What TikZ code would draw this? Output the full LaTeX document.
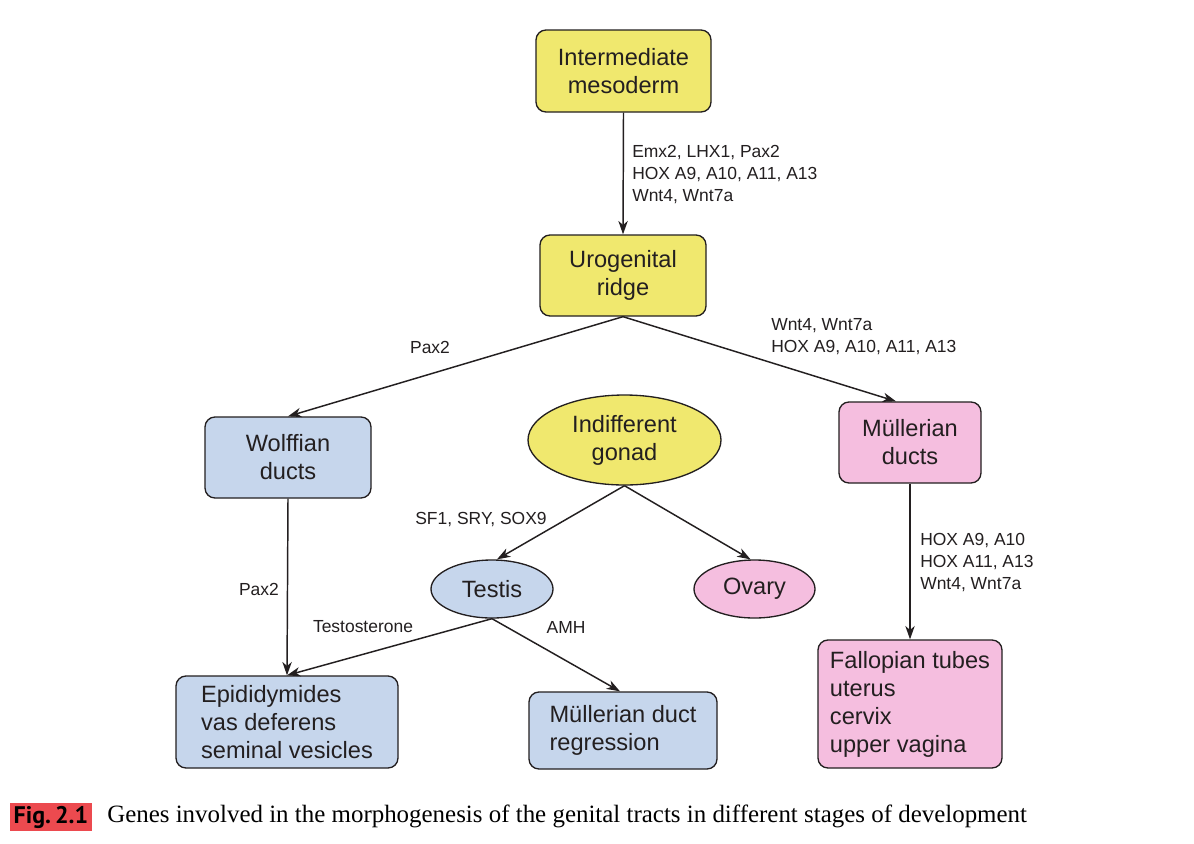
\documentclass[tikz,border=0pt]{standalone}
\usepackage{fontspec}
\setmainfont{Liberation Sans}
\newfontfamily\capserif{Liberation Serif}
\newfontfamily\capsans{PT Sans}
\usetikzlibrary{arrows.meta,shapes.geometric,calc}
\definecolor{ink}{HTML}{231F20}
\definecolor{yel}{HTML}{F0E86E}
\definecolor{blu}{HTML}{C6D6EC}
\definecolor{pnk}{HTML}{F5BEDF}
\definecolor{capred}{HTML}{EC4A4F}
\begin{document}
\begin{tikzpicture}[x=0.75pt,y=-0.75pt,
  nodefont/.style={font=\fontsize{17.7}{21}\selectfont},
  lblfont/.style={font=\fontsize{13.1}{16.5}\selectfont},
  sz/.style 2 args={minimum width=#1*0.75pt, minimum height=#2*0.75pt},
  box/.style={draw=ink, line width=1pt, rounded corners=7.5pt, inner sep=0pt, nodefont, align=center, text=ink},
  oval/.style={draw=ink, line width=1pt, ellipse, inner sep=0pt, nodefont, align=center, text=ink},
  lbl/.style={lblfont, inner sep=0pt, align=left, text=ink},
  arr/.style={draw=ink, line width=1.1pt, -{Stealth[length=10pt,width=7pt,inset=3pt]}}]
\useasboundingbox (0,0) rectangle (1194,843);
\fill[white] (0,0) rectangle (1194,843);

% nodes
\node[box, fill=yel, sz={175}{82}] (im) at (623.5,71) {Intermediate\\mesoderm};
\node[box, fill=yel, sz={166}{81}] (ur) at (623,275.5) {Urogenital\\ridge};
\node[box, fill=blu, sz={166}{81}] (wd) at (288,457.5) {Wolffian\\ducts};
\node[oval, fill=yel, sz={193}{90}] (ig) at (624.5,440) {Indifferent\\gonad};
\node[box, fill=pnk, sz={142}{81}] (md) at (910,442.5) {Müllerian\\ducts};
\node[oval, fill=blu, sz={122}{58}] (ts) at (492,589) {Testis};
\node[oval, fill=pnk, sz={121}{58}] (ov) at (754.5,589) {Ovary};
\node[box, fill=blu, sz={222}{92}, align=left] (ep) at (287,722) {Epididymides\\vas deferens\\seminal vesicles};
\node[box, fill=blu, sz={188}{77}, align=left] (mdr) at (623,730.5) {Müllerian duct\\regression};
\node[box, fill=pnk, sz={184}{128}, align=left] (ft) at (910,704) {Fallopian tubes\\uterus\\cervix\\upper vagina};

% connectors
\draw[arr] (im.south) -- (ur.north);
\draw[arr] (ur.south) -- (wd.north);
\draw[arr] (ur.south) -- ($(md.north)+(-14,0)$);
\draw[arr] (ig.south) -- ($(ts.north)+(5,0)$);
\draw[arr] (ig.south) -- ($(ov.north)+(-4,0)$);
\draw[arr] (wd.south) -- (ep.north);
\draw[arr] (ts.south) -- (ep.north);
\draw[arr] (ts.south) -- ($(mdr.north)+(-3,0)$);
\draw[arr] (md.south) -- (ft.north);

% labels
\node[lbl, anchor=west] (l1) at (632,175) {Emx2, LHX1, Pax2\\HOX A9, A10, A11, A13\\Wnt4, Wnt7a};
\node[lbl] (l2) at (430,347) {Pax2};
\node[lbl, anchor=west] (l3) at (771,337) {Wnt4, Wnt7a\\HOX A9, A10, A11, A13};
\node[lbl] (l4) at (481,520) {SF1, SRY, SOX9};
\node[lbl] (l5) at (259,589) {Pax2};
\node[lbl] (l6) at (363,627) {Testosterone};
\node[lbl] (l7) at (566,627) {AMH};
\node[lbl, anchor=west] (l8) at (920,563) {HOX A9, A10\\HOX A11, A13\\Wnt4, Wnt7a};

% caption
\node[fill=capred, sz={82}{28}, inner sep=0pt, font=\capsans\bfseries\fontsize{18}{20}\selectfont, text=black] (figlbl) at (51,817) {Fig.\,2.1};
\node[anchor=west, inner sep=0pt, font=\capserif\fontsize{18.7}{20}\selectfont, text=black] (cap) at (107,816) {Genes involved in the morphogenesis of the genital tracts in different stages of development};
\end{tikzpicture}
\end{document}
